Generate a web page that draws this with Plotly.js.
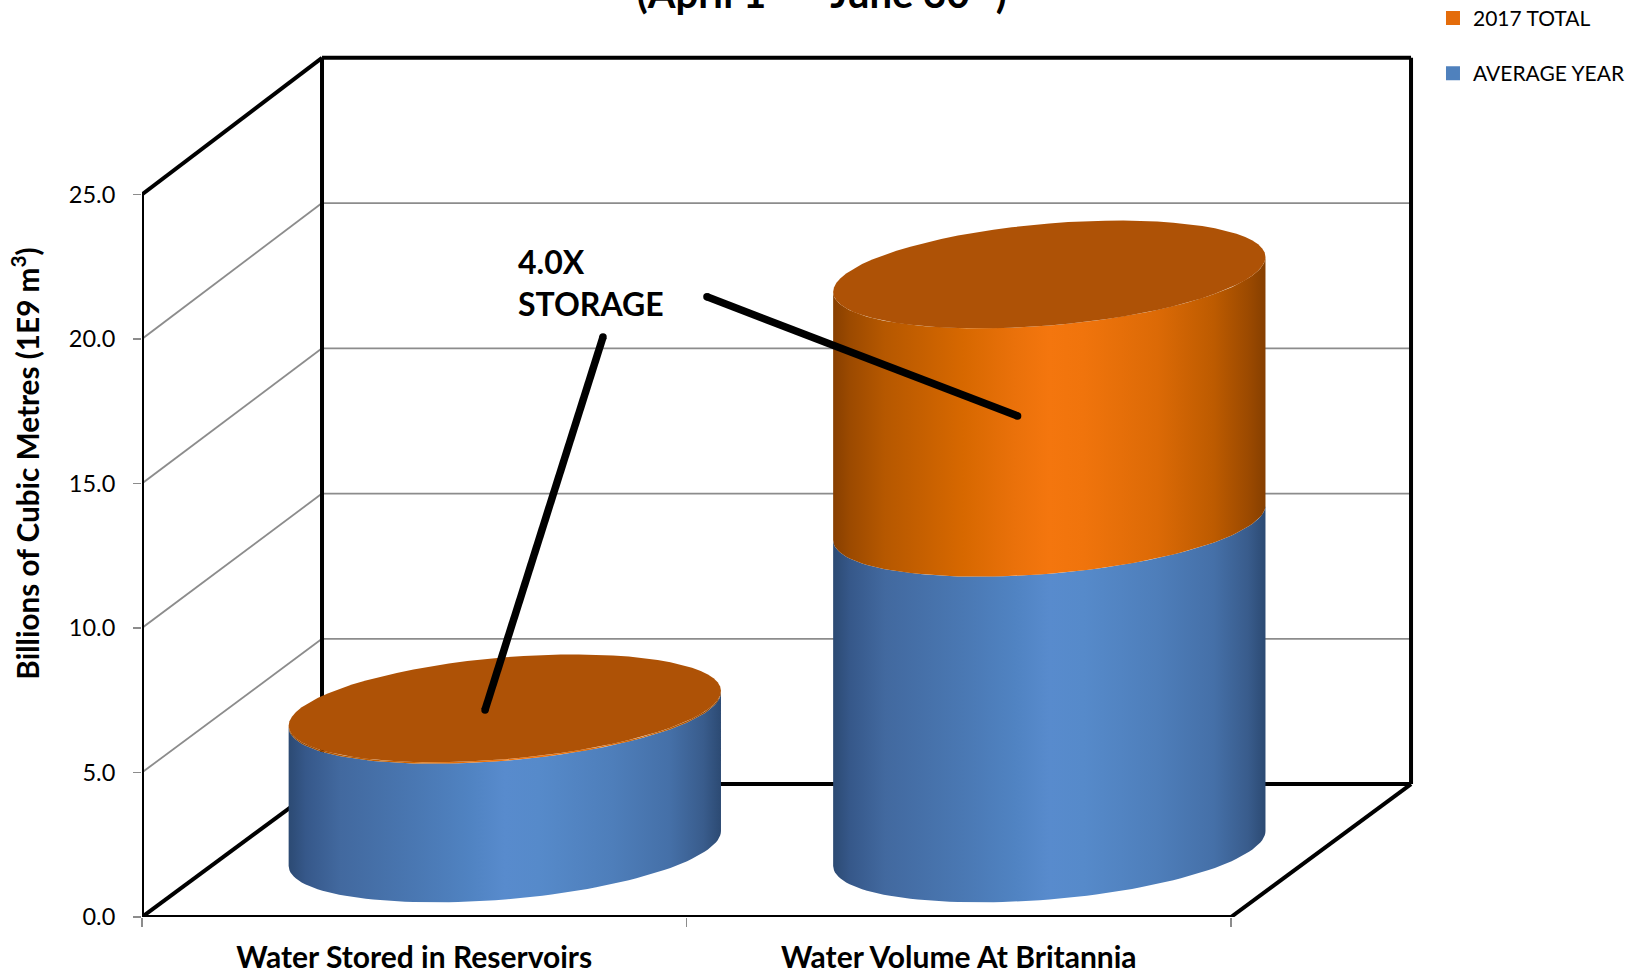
<!DOCTYPE html>
<html>
<head>
<meta charset="utf-8">
<script src="https://cdn.plot.ly/plotly-3.0.1.min.js"></script>
<style>html,body{margin:0;padding:0;background:#fff;overflow:hidden}</style>
</head>
<body>
<div id="chart" style="width:1638px;height:971px"></div>
<script>
// ---- data ----
const categories = ['Water Stored in Reservoirs', 'Water Volume At Britannia'];
const averageYear = [4.8, 11.27];
const total2017Extra = [0.05, 8.59];
const seriesNames = ['2017 TOTAL', 'AVERAGE YEAR'];
const yTickValues = [0, 5, 10, 15, 20, 25];
const yTickLabels = ['0.0', '5.0', '10.0', '15.0', '20.0', '25.0'];
const calloutText = '4.0X<br>STORAGE';
const calloutLineA = {x: [0.8466, 0.63], y: [20.065, 7.165]};
const calloutLineB = {x: [1.0376, 1.608], y: [21.455, 17.335]};
const titleText = '(April 1<sup>st</sup> – June 30<sup>th</sup>)';
const yTitle = 'Billions of Cubic Metres (1E9 m<sup>3</sup>)';

// ---- pseudo-3D projection of the chart box, in axis units ----
const depthX = 0.3306, depthY = 4.6, backStretch = 1.005;
const radiusX = 0.397, tiltY = 0.605, liftY = 1.765, baseLift = 0.07;
const backY = v => v * backStretch + depthY;
const FONT = 'Lato, Carlito, "Open Sans", sans-serif';
const blueScale = [[0,'#2c4a73'],[0.04,'#36588a'],[0.12,'#42699f'],[0.3,'#4a78b3'],[0.42,'#5083c2'],[0.5,'#588bcd'],[0.58,'#568aca'],[0.75,'#4e7eba'],[0.88,'#4570a8'],[0.96,'#395c8c'],[1,'#2c4a73']];
const orangeScale = [[0,'#873f00'],[0.04,'#9c4a00'],[0.12,'#b65800'],[0.3,'#d76800'],[0.42,'#ea710a'],[0.5,'#f4760e'],[0.58,'#f0740c'],[0.75,'#dc6a06'],[0.88,'#bd5b00'],[0.96,'#9c4a00'],[1,'#863f00']];
const topColor = '#ae5206';

const angles = (from, to) => { const a = []; for (let i = 0; i <= 72; i++) a.push(from + (to - from) * i / 72); return a; };
const arcX = (cx, ts) => ts.map(t => cx + radiusX * Math.cos(t));
const arcY = (cy, ts) => ts.map(t => cy + tiltY * Math.cos(t) + liftY * Math.sin(t));
const centerX = i => i + 0.5 + depthX / 2 + 0.001;
const baseY = depthY / 2 + baseLift;

function sideTrace(i, v0, v1, scale) {
  const low = angles(Math.PI, 2 * Math.PI), up = angles(2 * Math.PI, Math.PI);
  return {
    type: 'scatter', mode: 'lines', line: {width: 0}, showlegend: false, hoverinfo: 'skip',
    x: arcX(centerX(i), low).concat(arcX(centerX(i), up)),
    y: arcY(baseY + v0, low).concat(arcY(baseY + v1, up)),
    fill: 'toself', fillgradient: {type: 'horizontal', colorscale: scale}
  };
}
function capTrace(i, v) {
  const ts = angles(0, 2 * Math.PI);
  return {
    type: 'scatter', mode: 'lines', line: {width: 0}, showlegend: false, hoverinfo: 'skip',
    x: arcX(centerX(i), ts), y: arcY(baseY + v, ts), fill: 'toself', fillcolor: topColor
  };
}
function segs(list, color, width) {
  const x = [], y = [];
  list.forEach(s => { x.push(s[0], s[2], null); y.push(s[1], s[3], null); });
  return {type: 'scatter', mode: 'lines', x, y, line: {color, width}, showlegend: false, hoverinfo: 'skip', connectgaps: false};
}

const gridSegs = [];
yTickValues.slice(1, 5).forEach(v => {
  gridSegs.push([0, v, depthX, backY(v)]);
  gridSegs.push([depthX, backY(v), 2 + depthX, backY(v)]);
});
const frameSegs = [
  [0, 0, 0, 25], [0, 25, depthX, backY(25)],
  [depthX, backY(0), depthX, backY(25)], [depthX, backY(25), 2 + depthX, backY(25)],
  [2 + depthX, backY(25), 2 + depthX, backY(0)], [depthX, backY(0), 2 + depthX, backY(0)],
  [0, 0, depthX, backY(0)], [0, 0, 2, 0], [2, 0, 2 + depthX, backY(0)]
];

const traces = [segs(gridSegs, '#8c8c8c', 1.8), segs(frameSegs, '#000', 4)];
categories.forEach((c, i) => {
  const a = averageYear[i], t = a + total2017Extra[i];
  traces.push(sideTrace(i, 0, a, blueScale));
  traces.push(sideTrace(i, a, t, orangeScale));
  traces.push(capTrace(i, t));
});
[calloutLineA, calloutLineB].forEach(l => traces.push({
  type: 'scatter', mode: 'lines+markers', x: l.x, y: l.y,
  line: {color: '#000', width: 7.5}, marker: {color: '#000', size: 7.5},
  showlegend: false, hoverinfo: 'skip'
}));
// legend entries
traces.push({type: 'scatter', mode: 'markers', x: [null], y: [null], name: seriesNames[0], legendgroup: 'a',
  marker: {symbol: 'square', size: 14, color: '#e46c0a'}});
traces.push({type: 'scatter', mode: 'markers', x: [null], y: [null], name: seriesNames[1], legendgroup: 'b',
  marker: {symbol: 'square', size: 14, color: '#4f81bd'}});

const layout = {
  width: 1638, height: 971,
  paper_bgcolor: '#fff', plot_bgcolor: '#fff',
  margin: {l: 142, r: 198, t: 10, b: 54, autoexpand: false},
  font: {family: FONT, color: '#000'},
  title: {text: titleText, font: {family: FONT, size: 40, weight: 'bold', color: '#000'},
          x: 0.5017, xanchor: 'center', y: 0.9917, yanchor: 'bottom'},
  xaxis: {range: [0, 2.3838], tickmode: 'array', tickvals: [0.5, 1.5], ticktext: categories,
          ticks: '', showgrid: false, zeroline: false, showline: false, fixedrange: true,
          ticklabelstandoff: 20,
          tickfont: {family: FONT, size: 30, weight: 'bold', color: '#000'},
          minor: {tickmode: 'array', tickvals: [0, 1, 2], ticks: 'outside', ticklen: 9, tickwidth: 1.5, tickcolor: '#8c8c8c', showgrid: false}},
  yaxis: {range: [0, 31.38], tickmode: 'array', tickvals: yTickValues, ticktext: yTickLabels,
          ticks: 'outside', ticklen: 8, tickwidth: 1.5, tickcolor: '#8c8c8c',
          showgrid: false, zeroline: false, showline: false, fixedrange: true,
          ticklabelstandoff: 13,
          tickfont: {family: FONT, size: 23.5, color: '#000'},
          title: {text: yTitle, standoff: 20, font: {family: FONT, size: 29.7, weight: 'bold', color: '#000'}}},
  legend: {x: 0.9946, xanchor: 'left', y: 1.0135, yanchor: 'top', tracegroupgap: 25,
           font: {family: FONT, size: 21, color: '#000'}, bgcolor: 'rgba(0,0,0,0)'},
  annotations: [{text: calloutText, x: 0.687, y: 21.96, xref: 'x', yref: 'y', xanchor: 'left', yanchor: 'middle',
                 align: 'left', showarrow: false, font: {family: FONT, size: 32, weight: 'bold', color: '#000'}}]
};
Plotly.newPlot('chart', traces, layout, {displayModeBar: false, staticPlot: true});
</script>
</body>
</html>
